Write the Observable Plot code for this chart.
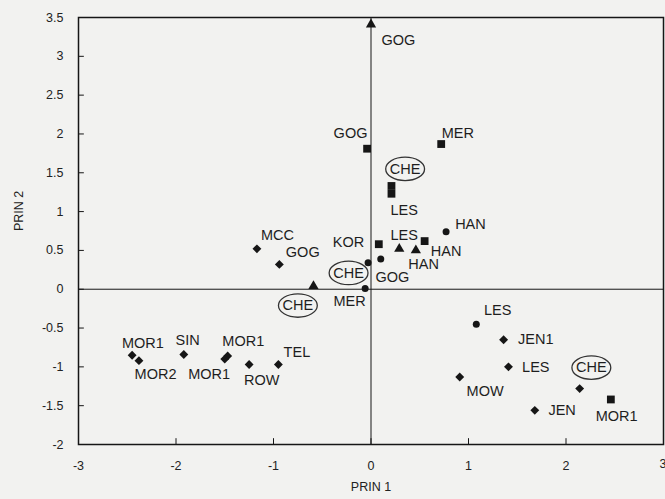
<!DOCTYPE html>
<html>
<head>
<meta charset="utf-8">
<script src="https://cdn.jsdelivr.net/npm/d3@7"></script>
<script src="https://cdn.jsdelivr.net/npm/@observablehq/plot@0.6"></script>
<style>
  html, body { margin: 0; padding: 0; background: #f2f2f0; }
  #chart svg { display: block; }
</style>
</head>
<body>
<div id="chart"></div>
<script>
// ---- data ----
const xValues = [0.00, -0.04, 0.72, 0.21, 0.21, 0.08, -0.03, 0.10, 0.29, 0.46, 0.55, 0.77,
  -1.17, -0.94, -0.59, -0.06,
  -2.45, -2.38, -1.92, -1.47, -1.50, -1.25, -0.95,
  1.08, 1.36, 1.41, 0.91, 2.14, 1.68, 2.46];
const yValues = [3.41, 1.81, 1.87, 1.33, 1.23, 0.58, 0.34, 0.39, 0.52, 0.50, 0.62, 0.74,
  0.52, 0.32, 0.04, 0.01,
  -0.85, -0.92, -0.84, -0.86, -0.90, -0.97, -0.97,
  -0.45, -0.65, -1.00, -1.13, -1.28, -1.56, -1.42];
const shapes = ["triangle", "square", "square", "square", "square", "square", "circle", "circle", "triangle", "triangle", "square", "circle",
  "diamond2", "diamond2", "triangle", "circle",
  "diamond2", "diamond2", "diamond2", "diamond2", "diamond2", "diamond2", "diamond2",
  "circle", "diamond2", "diamond2", "diamond2", "diamond2", "diamond2", "square"];
const labels = ["GOG", "GOG", "MER", "CHE", "LES", "KOR", "CHE", "GOG", "LES", "HAN", "HAN", "HAN",
  "MCC", "GOG", "CHE", "MER",
  "MOR1", "MOR2", "SIN", "MOR1", "MOR1", "ROW", "TEL",
  "LES", "JEN1", "LES", "MOW", "CHE", "JEN", "MOR1"];
const labelX = [0.28, -0.21, 0.89, 0.35, 0.34, -0.23, -0.23, 0.22, 0.34, 0.54, 0.77, 1.02,
  -0.96, -0.70, -0.75, -0.22,
  -2.34, -2.21, -1.88, -1.31, -1.66, -1.12, -0.76,
  1.30, 1.69, 1.69, 1.17, 2.26, 1.96, 2.52];
const labelY = [3.21, 2.01, 2.01, 1.55, 1.02, 0.61, 0.21, 0.15, 0.70, 0.32, 0.49, 0.84,
  0.70, 0.48, -0.21, -0.15,
  -0.70, -1.10, -0.66, -0.67, -1.10, -1.17, -0.81,
  -0.27, -0.65, -1.01, -1.32, -1.01, -1.56, -1.64];
const circledIndex = [3, 6, 14, 27];
const xTicks = [-3, -2, -1, 0, 1, 2, 3];
const yTicks = [-2, -1.5, -1, -0.5, 0, 0.5, 1, 1.5, 2, 2.5, 3, 3.5];
const xTitle = "PRIN 1";
const yTitle = "PRIN 2";

const points = xValues.map((x, i) => ({
  x, y: yValues[i], shape: shapes[i], label: labels[i],
  lx: labelX[i], ly: labelY[i], circled: circledIndex.includes(i)
}));

// ellipse symbol for the circled labels
const ellipse = {
  draw(context, size) {
    const ry = Math.sqrt(size / Math.PI);
    const rx = ry * 1.66;
    const k = 0.5523;
    context.moveTo(rx, 0);
    context.bezierCurveTo(rx, k * ry, k * rx, ry, 0, ry);
    context.bezierCurveTo(-k * rx, ry, -rx, k * ry, -rx, 0);
    context.bezierCurveTo(-rx, -k * ry, -k * rx, -ry, 0, -ry);
    context.bezierCurveTo(k * rx, -ry, rx, -k * ry, rx, 0);
    context.closePath();
  }
};

const symbolR = {triangle: 3.8, square: 4.4, circle: 3.5, diamond2: 4.0};
const ink = "#161616";
const font = "'Liberation Sans', Arial, sans-serif";
const lastX = xTicks[xTicks.length - 1];

const chart = Plot.plot({
  width: 665,
  height: 499,
  marginLeft: 78,
  marginRight: 2,
  marginTop: 17,
  marginBottom: 55,
  style: {background: "transparent", fontFamily: font, fontSize: "12.5px", color: "#222"},
  x: {domain: [-3, 3]},
  y: {domain: [-2, 3.5]},
  marks: [
    Plot.axisX({ticks: xTicks.filter(d => d !== lastX), tickSize: 0, tickPadding: 17, label: null, tickFormat: d => String(d), fontSize: 12.5}),
    Plot.text([lastX], {x: d => d, frameAnchor: "bottom", dy: 23, textAnchor: "end", dx: 3, text: d => String(d), fill: "#222", fontSize: 12.5}),
    Plot.axisY({ticks: yTicks, tickSize: 0, tickPadding: 15, label: null, tickFormat: d => String(d), fontSize: 12.5}),
    Plot.ruleX(xTicks, {y1: -2, y2: -1.925, stroke: ink, strokeWidth: 1}),
    Plot.ruleY(yTicks, {x1: -3, x2: -2.94, stroke: ink, strokeWidth: 1}),
    Plot.ruleY([0], {stroke: ink, strokeWidth: 1}),
    Plot.ruleX([0], {stroke: ink, strokeWidth: 1}),
    Plot.frame({stroke: ink, strokeWidth: 1.5}),
    ...Object.keys(symbolR).map(s =>
      Plot.dot(points.filter(d => d.shape === s), {x: "x", y: "y", symbol: s, r: symbolR[s], fill: ink, stroke: "none"})
    ),
    Plot.text(points, {x: "lx", y: "ly", text: "label", fill: "#1e1e1e", fontSize: 14.5, textAnchor: "middle"}),
    Plot.dot(points.filter(d => d.circled), {x: "lx", y: "ly", symbol: ellipse, r: 11.7, stroke: "#333", strokeWidth: 1.3, fill: "none"}),
    Plot.text([xTitle], {frameAnchor: "bottom", dy: 46, fill: "#222", fontSize: 12.5}),
    Plot.text([yTitle], {frameAnchor: "left", dx: -60, rotate: -90, fill: "#222", fontSize: 12.5})
  ]
});
document.getElementById("chart").appendChild(chart);
</script>
</body>
</html>
